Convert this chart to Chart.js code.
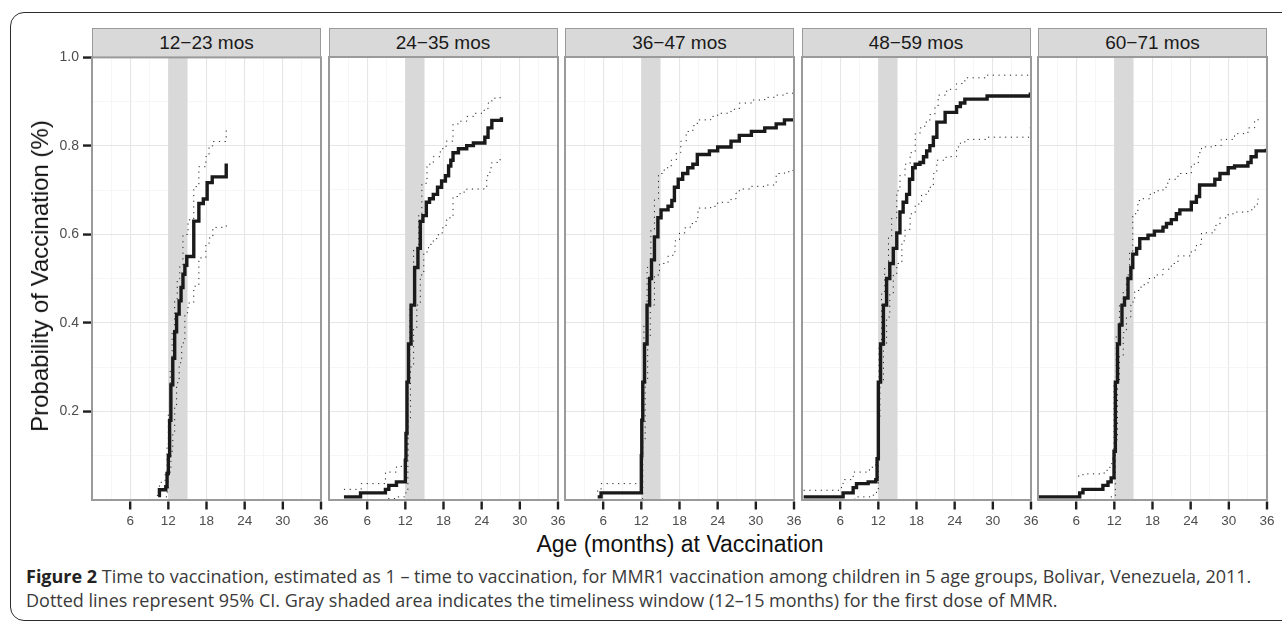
<!DOCTYPE html>
<html>
<head>
<meta charset="utf-8">
<script src="https://cdn.jsdelivr.net/npm/chart.js@4.4.1/dist/chart.umd.min.js"></script>
<style>
body { margin: 0; background: #fff; width: 1282px; height: 628px; overflow: hidden; position: relative; font-family: "Liberation Sans", Arial, sans-serif; }
.frame { position: absolute; left: 10px; top: 12px; width: 1300px; height: 609px; border: 1.5px solid #2b2b2b; border-radius: 14px; box-sizing: border-box; }
.strip { position: absolute; top: 28px; height: 30px; background: #d9d9d9; border: 1.5px solid #9a9a9a; box-sizing: border-box; text-align: center; font-size: 19px; line-height: 27px; color: #1a1a1a; }
.holder { position: absolute; }
.ytitle { position: absolute; left: 40px; top: 276px; transform: translate(-50%, -50%) rotate(-90deg); white-space: nowrap; font-size: 24px; color: #111; }
.xtitle { position: absolute; left: 680px; top: 533px; transform: translateX(-50%); white-space: nowrap; font-size: 23px; line-height: 23px; color: #111; }
.caption { position: absolute; left: 26px; top: 564px; font-family: "Open Sans", sans-serif; font-size: 18px; line-height: 24px; color: #3a3a3a; white-space: nowrap; }
.caption b { color: #222; }
</style>
</head>
<body>
<div class="frame"></div>
<div id="figure"></div>
<div class="ytitle">Probability of Vaccination (%)</div>
<div class="xtitle">Age (months) at Vaccination</div>
<div class="caption"><b>Figure 2</b> Time to vaccination, estimated as 1 – time to vaccination, for MMR1 vaccination among children in 5 age groups, Bolivar, Venezuela, 2011.<br>Dotted lines represent 95% CI. Gray shaded area indicates the timeliness window (12–15 months) for the first dose of MMR.</div>

<script>
// 패널 이름, 눈금
const panelLabels = ['12−23 mos', '24−35 mos', '36−47 mos', '48−59 mos', '60−71 mos'];
const xTicks = [6, 12, 18, 24, 30, 36];
const yTicks = [0.2, 0.4, 0.6, 0.8, 1.0];
const windowMonths = [12, 15]; // 적기 접종 구간

// [개월, 확률] — 그림에서 읽은 값
const main12 = [[10.4,0.01],[10.6,0.023],[11.6,0.03],[11.8,0.06],[12.0,0.10],[12.2,0.18],[12.4,0.26],[12.7,0.32],[13.0,0.38],[13.3,0.42],[13.7,0.45],[14.0,0.48],[14.3,0.51],[14.6,0.53],[14.9,0.55],[16.0,0.63],[16.8,0.67],[17.5,0.68],[18.1,0.717],[18.9,0.73],[21.1,0.76]];
const upper12 = [[10.2,0.01],[10.6,0.04],[11.5,0.06],[11.8,0.12],[12.0,0.2],[12.3,0.3],[12.6,0.38],[13.0,0.45],[13.4,0.50],[13.8,0.53],[14.3,0.60],[15.1,0.633],[16.0,0.708],[16.8,0.753],[17.9,0.776],[18.4,0.80],[19.0,0.81],[21.1,0.845]];
const lower12 = [[11.2,0.0],[11.7,0.018],[12.0,0.063],[12.4,0.11],[12.7,0.153],[13.0,0.21],[13.3,0.265],[13.7,0.31],[14.1,0.355],[14.6,0.423],[15.1,0.445],[16.0,0.483],[16.8,0.547],[17.9,0.577],[18.4,0.592],[19.0,0.616],[21.1,0.626]];

const main24 = [[2.35,0.007],[4.96,0.016],[8.87,0.024],[9.4,0.033],[10.6,0.041],[12.0,0.09],[12.1,0.15],[12.26,0.266],[12.5,0.352],[12.9,0.44],[13.46,0.525],[13.98,0.568],[14.35,0.629],[14.76,0.642],[15.3,0.672],[15.8,0.68],[16.4,0.69],[17.06,0.706],[17.7,0.72],[18.3,0.732],[18.8,0.754],[19.15,0.767],[19.5,0.784],[20.35,0.793],[21.65,0.80],[22.7,0.806],[24.5,0.819],[25.0,0.84],[25.6,0.857],[27.1,0.864]];
const upper24 = [[2.35,0.024],[5.06,0.037],[8.87,0.063],[10.6,0.076],[12.0,0.093],[12.4,0.266],[12.7,0.44],[13.3,0.568],[14.1,0.646],[14.6,0.715],[15.4,0.758],[16.4,0.775],[17.5,0.793],[18.4,0.81],[19.5,0.849],[20.6,0.855],[21.65,0.866],[22.8,0.873],[24.4,0.883],[25.0,0.896],[25.6,0.907],[26.9,0.918]];
const lower24 = [[2.35,0.0],[8.87,0.003],[10.6,0.007],[12.0,0.016],[12.4,0.18],[12.8,0.30],[13.3,0.387],[13.8,0.44],[14.35,0.508],[14.9,0.56],[15.65,0.577],[16.4,0.59],[17.2,0.603],[17.9,0.62],[18.5,0.637],[19.5,0.685],[20.6,0.695],[21.65,0.702],[24.4,0.706],[24.8,0.732],[25.3,0.75],[25.6,0.762],[26.9,0.78]];

const main36 = [[5.14,0.007],[5.67,0.016],[12.0,0.10],[12.07,0.18],[12.23,0.266],[12.5,0.352],[12.9,0.44],[13.3,0.5],[13.6,0.542],[14.06,0.594],[14.6,0.637],[15.1,0.655],[16.2,0.663],[16.8,0.676],[17.2,0.706],[17.8,0.724],[18.5,0.737],[19.3,0.75],[20.1,0.758],[20.8,0.78],[22.7,0.788],[24.0,0.797],[26.1,0.81],[27.4,0.823],[29.3,0.832],[31.4,0.84],[33.2,0.849],[34.5,0.858],[36,0.862]];
const upper36 = [[5.04,0.02],[5.67,0.037],[11.9,0.06],[12.07,0.266],[12.4,0.395],[12.9,0.525],[13.5,0.611],[14.06,0.68],[14.7,0.737],[15.6,0.75],[16.7,0.767],[17.5,0.784],[18.2,0.81],[19.05,0.832],[20.1,0.845],[20.8,0.858],[22.9,0.866],[24.0,0.873],[26.1,0.882],[27.4,0.896],[29.3,0.903],[31.4,0.909],[33.2,0.914],[34.5,0.918],[35.8,0.922]];
const lower36 = [[5.14,0.0],[11.86,0.003],[12.23,0.136],[12.6,0.266],[13.0,0.37],[13.4,0.44],[14.06,0.508],[14.85,0.534],[16.2,0.551],[16.95,0.56],[17.3,0.585],[18.0,0.603],[18.9,0.616],[19.8,0.624],[20.6,0.637],[20.9,0.659],[22.9,0.663],[24.0,0.672],[26.1,0.68],[26.9,0.693],[27.4,0.702],[29.3,0.708],[31.4,0.711],[33.2,0.737],[34.5,0.741],[35.8,0.745]];

const main48 = [[0.26,0.007],[6.46,0.016],[8.04,0.028],[8.57,0.037],[10.4,0.041],[11.6,0.046],[11.8,0.093],[12.0,0.266],[12.35,0.352],[12.8,0.44],[13.3,0.5],[13.8,0.534],[14.35,0.568],[14.9,0.603],[15.4,0.65],[15.9,0.672],[16.45,0.69],[16.9,0.724],[17.4,0.75],[17.8,0.758],[18.55,0.762],[19.1,0.775],[19.6,0.788],[20.1,0.80],[20.65,0.819],[21.2,0.853],[22.5,0.875],[24.3,0.888],[24.9,0.896],[25.6,0.905],[29.1,0.912],[35.9,0.92]];
const upper48 = [[0.26,0.022],[6.2,0.033],[6.46,0.046],[8.04,0.063],[10.6,0.074],[11.6,0.089],[11.9,0.18],[12.1,0.352],[12.5,0.465],[13.0,0.525],[13.6,0.594],[14.1,0.637],[14.9,0.698],[15.4,0.733],[16.2,0.758],[17.0,0.784],[17.8,0.827],[18.55,0.84],[19.3,0.853],[20.1,0.87],[20.9,0.888],[21.4,0.914],[22.75,0.927],[24.3,0.94],[25.6,0.953],[29.1,0.959],[35.9,0.962]];
const lower48 = [[0.26,0.0],[8.3,0.007],[10.7,0.011],[11.7,0.024],[12.0,0.18],[12.25,0.266],[12.8,0.352],[13.3,0.413],[13.8,0.465],[14.35,0.508],[14.9,0.534],[15.7,0.585],[16.2,0.611],[17.0,0.646],[17.8,0.668],[18.8,0.69],[19.9,0.706],[20.65,0.737],[21.2,0.767],[22.65,0.775],[24.3,0.797],[24.9,0.806],[25.6,0.814],[29.1,0.819],[35.9,0.843]];

const main60 = [[0,0.007],[6.55,0.016],[7.07,0.024],[10.2,0.033],[11.0,0.041],[11.5,0.05],[11.95,0.11],[12.16,0.266],[12.5,0.352],[12.8,0.395],[13.2,0.44],[13.6,0.456],[14.15,0.5],[14.6,0.525],[14.9,0.555],[15.5,0.568],[16.0,0.59],[17.3,0.598],[18.3,0.607],[19.65,0.616],[20.2,0.624],[20.96,0.633],[21.75,0.646],[22.3,0.655],[24.1,0.672],[24.9,0.685],[25.4,0.711],[27.8,0.724],[28.6,0.737],[29.9,0.75],[30.9,0.754],[33.0,0.762],[33.5,0.775],[34.3,0.788],[35.9,0.793]];
const upper60 = [[6.3,0.054],[7.07,0.059],[10.4,0.067],[11.3,0.076],[11.6,0.093],[11.95,0.266],[12.3,0.37],[12.8,0.44],[13.4,0.473],[13.9,0.508],[14.4,0.56],[14.9,0.646],[15.7,0.676],[16.5,0.68],[17.55,0.69],[18.3,0.698],[19.65,0.706],[20.4,0.724],[22.0,0.737],[24.1,0.758],[25.2,0.784],[25.7,0.797],[27.8,0.80],[28.8,0.814],[30.9,0.827],[33.0,0.84],[34.05,0.857],[34.6,0.866]];
const lower60 = [[6.55,0.0],[10.5,0.0],[11.3,0.007],[12.16,0.136],[12.5,0.266],[12.8,0.326],[13.4,0.378],[13.9,0.413],[14.6,0.447],[15.2,0.473],[16.2,0.486],[17.3,0.5],[18.3,0.508],[19.65,0.521],[20.96,0.534],[22.0,0.551],[24.1,0.564],[24.9,0.577],[25.7,0.603],[27.8,0.62],[28.6,0.637],[29.9,0.646],[30.9,0.65],[33.0,0.655],[34.05,0.668],[34.6,0.68]];

const series = [
	[main12, upper12, lower12],
	[main24, upper24, lower24],
	[main36, upper36, lower36],
	[main48, upper48, lower48],
	[main60, upper60, lower60]
];

// 배치 (픽셀)
const PANEL_LEFT = [92, 328.5, 565, 801.5, 1038];
const PANEL_W = 229;
const PLOT_TOP = 57;
const PLOT_H = 443;
const PAD_TOP = 12;
const PAD_RIGHT = 14;
const X_AXIS_H = 30;

const isMajor = (v, list) => list.some(t => Math.abs(t - v) < 1e-6);

// 음영 구간 + 패널 테두리 + x 눈금 표시
const panelPlugin = {
	id: 'panelDeco',
	beforeDatasetsDraw(chart) {
		const { ctx, chartArea, scales: { x } } = chart;
		const a = x.getPixelForValue(windowMonths[0]);
		const b = x.getPixelForValue(windowMonths[1]);
		ctx.save();
		ctx.fillStyle = '#d9d9d9';
		ctx.fillRect(a, chartArea.top, b - a, chartArea.bottom - chartArea.top);
		ctx.restore();
	},
	afterDraw(chart) {
		const { ctx, chartArea, scales: { x } } = chart;
		ctx.save();
		ctx.strokeStyle = '#9a9a9a';
		ctx.lineWidth = 2;
		ctx.strokeRect(chartArea.left, chartArea.top, chartArea.right - chartArea.left, chartArea.bottom - chartArea.top);
		// x 눈금 표시
		ctx.fillStyle = '#1e1e1e';
		for (const t of xTicks) {
			const px = x.getPixelForValue(t);
			ctx.fillRect(px - 1.2, chartArea.bottom + 1.5, 2.4, 8);
		}
		ctx.restore();
	}
};

function toPts(arr) {
	return arr.map(([x, y]) => ({ x, y }));
}

function makePanel(i) {
	const first = i === 0;
	const yW = first ? 70 : 4;
	const fig = document.getElementById('figure');

	const strip = document.createElement('div');
	strip.className = 'strip';
	strip.style.left = PANEL_LEFT[i] + 'px';
	strip.style.width = PANEL_W + 'px';
	strip.textContent = panelLabels[i];
	fig.appendChild(strip);

	const holder = document.createElement('div');
	holder.className = 'holder';
	holder.style.left = (PANEL_LEFT[i] - yW) + 'px';
	holder.style.top = (PLOT_TOP - PAD_TOP) + 'px';
	const canvas = document.createElement('canvas');
	canvas.width = PANEL_W + yW + PAD_RIGHT;
	canvas.height = PAD_TOP + PLOT_H + X_AXIS_H;
	holder.appendChild(canvas);
	fig.appendChild(holder);

	const [m, up, lo] = series[i];
	const ciStyle = { borderColor: '#222', borderWidth: 1, borderDash: [1.2, 4.5], stepped: true, pointRadius: 0, fill: false };

	new Chart(canvas, {
		type: 'line',
		data: {
			datasets: [
				{ label: 'upper', data: toPts(up), ...ciStyle },
				{ label: 'lower', data: toPts(lo), ...ciStyle },
				{ label: 'estimate', data: toPts(m), borderColor: '#1a1a1a', borderWidth: 3.4, stepped: true, pointRadius: 0, fill: false }
			]
		},
		options: {
			responsive: false,
			animation: false,
			layout: { padding: { top: PAD_TOP, right: PAD_RIGHT, left: 0, bottom: 0 } },
			plugins: { legend: { display: false }, tooltip: { enabled: false } },
			scales: {
				x: {
					type: 'linear', min: 0, max: 36,
					afterFit: s => { s.height = X_AXIS_H; },
					border: { display: false },
					grid: {
						color: c => isMajor(c.tick.value, [0, ...xTicks]) ? '#e6e6e6' : '#f2f2f2',
						lineWidth: c => isMajor(c.tick.value, [0, ...xTicks]) ? 1.1 : 0.7,
						tickColor: 'rgba(0,0,0,0)',
						tickLength: 9
					},
					ticks: {
						stepSize: 3, autoSkip: false, maxRotation: 0, padding: 4,
						color: '#4d4d4d', font: { family: 'Liberation Sans', size: 13.5 },
						callback: v => isMajor(v, xTicks) ? String(v) : ''
					}
				},
				y: {
					type: 'linear', min: 0, max: 1,
					afterFit: s => { s.width = yW; },
					border: { display: false },
					grid: {
						color: c => isMajor(c.tick.value, [0, ...yTicks]) ? '#e6e6e6' : '#f2f2f2',
						lineWidth: c => isMajor(c.tick.value, [0, ...yTicks]) ? 1.1 : 0.7,
						drawTicks: first,
						tickColor: c => isMajor(c.tick.value, yTicks) ? '#1e1e1e' : 'rgba(0,0,0,0)',
						tickWidth: 2.4, tickLength: 9
					},
					ticks: {
						display: first, stepSize: 0.1, autoSkip: false, padding: 4,
						color: '#4d4d4d', font: { family: 'Liberation Sans', size: 14 },
						callback: v => isMajor(v, yTicks) ? v.toFixed(1) : ''
					}
				}
			}
		},
		plugins: [panelPlugin]
	});
}

for (let i = 0; i < panelLabels.length; i++) makePanel(i);
</script>
</body>
</html>
